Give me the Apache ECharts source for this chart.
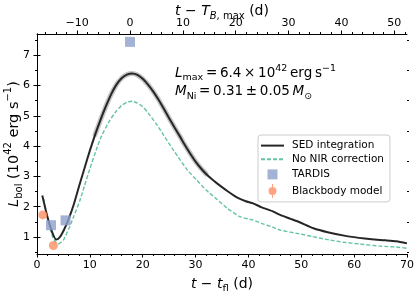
<!DOCTYPE html>
<html>
<head>
<meta charset="utf-8">
<script src="https://cdn.jsdelivr.net/npm/echarts@6/dist/echarts.min.js"></script>
<style>
  html, body { margin: 0; padding: 0; background: #fff; }
  #chart { width: 415px; height: 291px; }
</style>
</head>
<body>
<div id="chart"></div>
<script>
// ---------------- data ----------------
// SED integration (black line): time since first light (d), L_bol (1e42 erg/s)
const SED_T = [1.0, 1.5, 2.0, 2.5, 3.0, 3.6, 4.2, 5.0, 6.0, 7.0, 8.0, 9.0, 10.0, 11.0, 12.0, 13.0, 14.0, 15.0, 16.0, 17.0, 18.0, 19.0, 20.0, 21.0, 22.0, 23.0, 24.0, 25.0, 26.0, 27.0, 28.0, 29.0, 30.0, 31.0, 32.0, 33.0, 34.0, 36.0, 38.0, 39.5, 40.9, 42.5, 44.7, 46.0, 48.0, 49.8, 52.3, 55.0, 58.6, 62.0, 64.9, 66.0, 68.0, 70.0];
const SED_L = [2.37, 2.0, 1.65, 1.35, 1.1, 0.92, 0.97, 1.2, 1.6, 2.1, 2.7, 3.28, 3.85, 4.38, 4.86, 5.3, 5.7, 6.02, 6.24, 6.36, 6.4, 6.35, 6.22, 6.03, 5.8, 5.53, 5.23, 4.92, 4.62, 4.33, 4.03, 3.75, 3.49, 3.27, 3.08, 2.92, 2.78, 2.52, 2.29, 2.18, 2.11, 1.98, 1.84, 1.73, 1.6, 1.48, 1.29, 1.16, 1.03, 0.95, 0.9, 0.89, 0.86, 0.79];
// No NIR correction (dashed teal)
const NIR_T = [1.3, 2.0, 3.0, 3.6, 4.0, 5.0, 6.2, 7.0, 8.1, 9.0, 10.0, 11.2, 12.2, 13.8, 15.0, 16.0, 17.0, 18.0, 19.0, 20.0, 21.0, 22.5, 24.0, 25.5, 27.1, 28.5, 30.2, 32.0, 34.0, 36.0, 38.4, 40.9, 42.5, 44.5, 46.0, 49.8, 52.0, 55.4, 58.0, 61.0, 64.9, 68.0, 70.0];
const NIR_L = [2.25, 1.6, 0.98, 0.82, 0.77, 0.9, 1.35, 1.7, 2.2, 2.7, 3.25, 3.87, 4.33, 4.86, 5.15, 5.34, 5.45, 5.48, 5.42, 5.3, 5.1, 4.75, 4.35, 3.95, 3.54, 3.2, 2.88, 2.55, 2.25, 1.95, 1.67, 1.56, 1.45, 1.33, 1.23, 1.1, 1.02, 0.9, 0.83, 0.77, 0.7, 0.67, 0.63];
// TARDIS models (squares)
const TARDIS_T = [2.65, 5.4, 17.6];
const TARDIS_L = [1.39, 1.55, 7.44];
// Blackbody model (circles)
const BB_T = [1.1, 3.1];
const BB_L = [1.73, 0.72];

// axes / ticks
const X_MIN = 0, X_MAX = 70;
const Y_MIN = 0.44, Y_MAX = 7.7;
const T_BMAX_OFFSET = 17.6;               // t_fl -> t - T_B,max shift
const TOP_TICKS = [-10, 0, 10, 20, 30, 40, 50];
const TOP_MINOR = [-16, -14, -12, -8, -6, -4, -2, 2, 4, 6, 8, 12, 14, 16, 18, 22, 24, 26, 28, 32, 34, 36, 38, 42, 44, 46, 48, 52];
const Y_TICKS = [1, 2, 3, 4, 5, 6, 7];
const Y_MINOR = [0.5, 1.5, 2.5, 3.5, 4.5, 5.5, 6.5, 7.5];
const BAND_RANGE = [11, 32];              // where the SED uncertainty band is visible

const LEGEND_NAMES = ['SED integration', 'No NIR correction', 'TARDIS', 'Blackbody model'];
const TS = '\u2009'; // thin space
const ANNOT_LMAX = '{i|L}{sub|max}{n|' + TS + '=' + TS + '6.4' + TS + '×' + TS + '10}{sup|42}{n|' + TS + 'erg' + TS + 's}{sup|−1}';
const ANNOT_MNI = '{i|M}{sub|Ni}{n|' + TS + '=' + TS + '0.31' + TS + '±' + TS + '0.05' + TS + '}{i|M}{sub|⊙}';

// ---------------- chart ----------------
const FONT = 'DejaVu Sans';
const zip = (a, b) => a.map((v, i) => [v, b[i]]);
const topPos = v => v + T_BMAX_OFFSET;

const richBase = (fs) => {
  const s = Math.round(fs * 0.7 * 2) / 2;
  return {
    n: { fontFamily: FONT, fontSize: fs, color: '#000', lineHeight: fs + 6 },
    i: { fontFamily: FONT, fontSize: fs, fontStyle: 'italic', color: '#000', lineHeight: fs + 6 },
    sub: { fontFamily: FONT, fontSize: s, color: '#000', verticalAlign: 'bottom', lineHeight: fs + 6 },
    subi: { fontFamily: FONT, fontSize: s, fontStyle: 'italic', color: '#000', verticalAlign: 'bottom', lineHeight: fs + 6 },
    sup: { fontFamily: FONT, fontSize: s, color: '#000', verticalAlign: 'top', lineHeight: fs + 6 }
  };
};

const tickLabel = { fontFamily: FONT, fontSize: 11, color: '#000' };
const blackLine = { show: true, lineStyle: { color: '#000', width: 1 } };

const chart = echarts.init(document.getElementById('chart'), null, { renderer: 'canvas' });

const bandData = zip(SED_T, SED_L).filter(p => p[0] >= BAND_RANGE[0] && p[0] <= BAND_RANGE[1]);

const option = {
  animation: false,
  backgroundColor: '#fff',
  grid: { left: 37, right: 8, top: 34, bottom: 37, containLabel: false, outerBoundsMode: 'none' },
  xAxis: [
    {
      type: 'value', position: 'bottom', min: X_MIN, max: X_MAX, interval: 10,
      axisLine: blackLine,
      axisTick: { show: true, length: 3.5, inside: false, lineStyle: { color: '#000' } },
      minorTick: { show: true, splitNumber: 5, length: 2, lineStyle: { color: '#000' } },
      splitLine: { show: false },
      axisLabel: Object.assign({ margin: 6 }, tickLabel),
      name: '{i|t}{n| − }{i|t}{sub|fl}{n| (d)}',
      nameLocation: 'middle', nameGap: 20, nameMoveOverlap: false,
      nameTextStyle: { fontFamily: FONT, fontSize: 14, rich: richBase(14) }
    },
    {
      type: 'value', position: 'top', min: X_MIN, max: X_MAX,
      axisLine: blackLine,
      axisTick: { show: true, length: 3.5, inside: false, customValues: TOP_TICKS.map(topPos), lineStyle: { color: '#000' } },
      splitLine: { show: false },
      axisLabel: Object.assign({ margin: 5, customValues: TOP_TICKS.map(topPos),
        formatter: v => String(Math.round(v - T_BMAX_OFFSET)).replace('-', '−') }, tickLabel),
      name: '{i|t}{n| − }{i|T}{subi|B}{sub|, max}{n| (d)}',
      nameLocation: 'middle', nameGap: 13, nameMoveOverlap: false,
      nameTextStyle: { fontFamily: FONT, fontSize: 14, rich: richBase(14) }
    },
    {
      type: 'value', position: 'top', min: X_MIN, max: X_MAX,
      axisLine: { show: false },
      axisTick: { show: true, length: 2, inside: false, customValues: TOP_MINOR.map(topPos), lineStyle: { color: '#000' } },
      splitLine: { show: false },
      axisLabel: { show: false }
    }
  ],
  yAxis: [
    {
      type: 'value', position: 'left', min: Y_MIN, max: Y_MAX,
      axisLine: blackLine,
      axisTick: { show: true, length: 3.5, inside: false, customValues: Y_TICKS, lineStyle: { color: '#000' } },
      splitLine: { show: false },
      axisLabel: Object.assign({ margin: 7, customValues: Y_TICKS }, tickLabel),
      name: '{i|L}{sub|bol}{n| (10}{sup|42}{n| erg s}{sup|−1}{n|)}',
      nameLocation: 'middle', nameGap: 13, nameRotate: 90, nameMoveOverlap: false,
      nameTextStyle: { fontFamily: FONT, fontSize: 14.5, rich: richBase(14.5) }
    },
    {
      type: 'value', position: 'left', min: Y_MIN, max: Y_MAX,
      axisLine: { show: false },
      axisTick: { show: true, length: 2, inside: false, customValues: Y_MINOR, lineStyle: { color: '#000' } },
      splitLine: { show: false }, axisLabel: { show: false }
    },
    {
      type: 'value', position: 'right', min: Y_MIN, max: Y_MAX,
      axisLine: blackLine,
      axisTick: { show: true, length: 3.5, inside: false, customValues: Y_TICKS, lineStyle: { color: '#000' } },
      splitLine: { show: false }, axisLabel: { show: false }
    },
    {
      type: 'value', position: 'right', min: Y_MIN, max: Y_MAX,
      axisLine: { show: false },
      axisTick: { show: true, length: 2, inside: false, customValues: Y_MINOR, lineStyle: { color: '#000' } },
      splitLine: { show: false }, axisLabel: { show: false }
    }
  ],
  legend: {
    orient: 'vertical', left: 258, top: 135,
    padding: [5, 6, 4, 2],
    itemWidth: 23, itemHeight: 14, itemGap: 2.5,
    backgroundColor: 'rgba(255,255,255,0.8)',
    borderColor: '#cccccc', borderWidth: 1, borderRadius: 3,
    textStyle: { fontFamily: FONT, fontSize: 10.5, color: '#000', padding: [0, 0, 0, 3] },
    data: [
      { name: LEGEND_NAMES[0], itemStyle: { opacity: 0 } },
      { name: LEGEND_NAMES[1], itemStyle: { opacity: 0 } },
      { name: LEGEND_NAMES[2], icon: 'path://M0,0M14,14M2,2H12V12H2Z' },
      { name: LEGEND_NAMES[3], icon: 'path://M0,0M14,14M6.5,0H7.5V14H6.5Z M11,7A4,4 0 1 1 3,7A4,4 0 1 1 11,7Z' }
    ]
  },
  graphic: [
    { type: 'text', left: 175, top: 63.5, silent: true, style: { text: ANNOT_LMAX, rich: richBase(13.5), fontFamily: FONT, fontSize: 13.5 } },
    { type: 'text', left: 175, top: 84.5, silent: true, style: { text: ANNOT_MNI, rich: richBase(13.5), fontFamily: FONT, fontSize: 13.5 } }
  ],
  series: [
    {
      name: 'SED band', type: 'line', xAxisIndex: 0, yAxisIndex: 0,
      data: bandData, showSymbol: false, symbol: 'none', smooth: 0.2,
      lineStyle: { color: 'rgba(140,140,140,0.5)', width: 5, cap: 'round' }, z: 2, silent: true
    },
    {
      name: LEGEND_NAMES[1], type: 'line', xAxisIndex: 0, yAxisIndex: 0,
      data: zip(NIR_T, NIR_L), showSymbol: false, symbol: 'none', smooth: 0.2,
      itemStyle: { color: '#66c2a5' },
      lineStyle: { color: '#66c2a5', width: 1.4, type: [4, 2] }, z: 3
    },
    {
      name: LEGEND_NAMES[0], type: 'line', xAxisIndex: 0, yAxisIndex: 0,
      data: zip(SED_T, SED_L), showSymbol: false, symbol: 'none', smooth: 0.2,
      itemStyle: { color: '#262626' },
      lineStyle: { color: '#262626', width: 2 }, z: 4
    },
    {
      name: LEGEND_NAMES[2], type: 'scatter', xAxisIndex: 0, yAxisIndex: 0,
      data: zip(TARDIS_T, TARDIS_L), symbol: 'rect', symbolSize: 10,
      itemStyle: { color: '#8da0cb' }, z: 5
    },
    {
      name: LEGEND_NAMES[3], type: 'scatter', xAxisIndex: 0, yAxisIndex: 0,
      data: zip(BB_T, BB_L), symbol: 'circle', symbolSize: 9,
      itemStyle: { color: '#fc8d62' }, z: 6
    }
  ]
};
chart.setOption(option);
</script>
</body>
</html>
